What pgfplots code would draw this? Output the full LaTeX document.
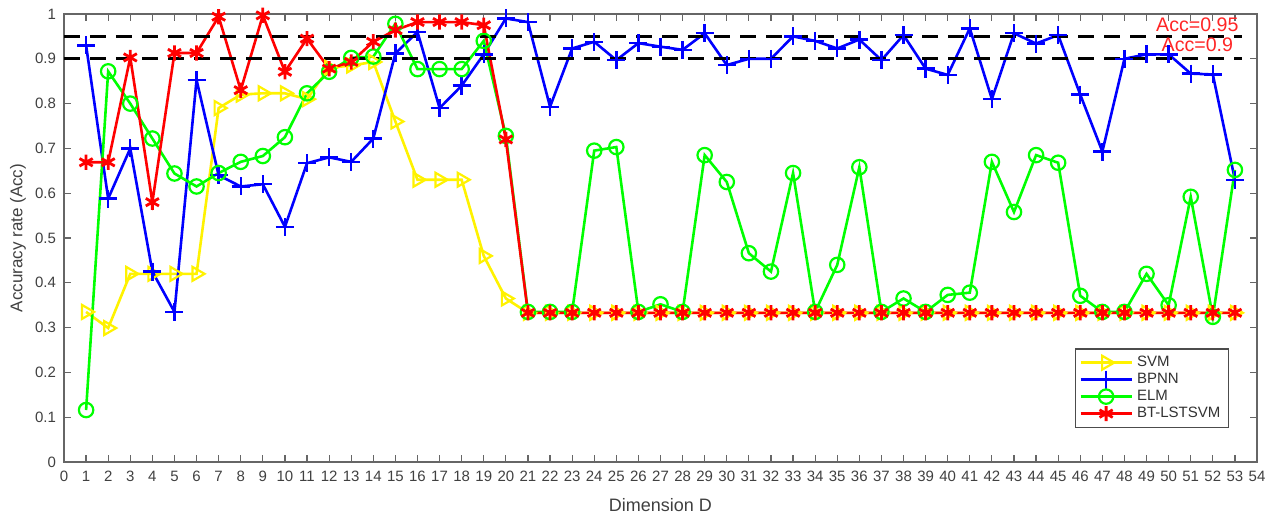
\documentclass[border=0pt]{standalone}
\usepackage{pgfplots}
\pgfplotsset{compat=1.18}
\usepackage{fontspec}
\setmainfont{Liberation Sans}
\begin{document}
\begin{tikzpicture}
\begin{axis}[
  scale only axis,
  width=596.5pt, height=224pt,
  xmin=0, xmax=54, ymin=0, ymax=1,
  xtick={0,1,...,54},
  ytick={0,0.1,...,1},
  yticklabels={0,0.1,0.2,0.3,0.4,0.5,0.6,0.7,0.8,0.9,1},
  tick align=inside,
  major tick length=3.5pt,
  axis line style={draw=black!60, line width=0.6pt},
  tick style={draw=black!60, line width=0.6pt},
  tick label style={font=\fontsize{7.5}{8}\selectfont, text=black!75},
  xticklabel style={yshift=-1pt},
  yticklabel style={xshift=-0.5pt},
  /pgf/number format/assume math mode=true,
  xlabel={Dimension D},
  ylabel={Accuracy rate (Acc)},
  xlabel style={at={(axis description cs:0.5,-0.096)}, anchor=center, font=\fontsize{9}{10}\selectfont, text=black!75},
  ylabel style={at={(axis description cs:-0.0385,0.5)}, anchor=center, rotate=0, font=\fontsize{8.5}{10}\selectfont, text=black!75},
  legend style={at={(rel axis cs:0.9765,0.076)}, anchor=south east, font=\fontsize{7.5}{8}\selectfont, draw=black!70, line width=0.6pt, row sep=-2.2pt, inner xsep=2pt, inner ysep=1.5pt, text=black!80},
  legend cell align=left,
  legend image code/.code={\draw[mark repeat=2,mark phase=2] plot coordinates {(0cm,0cm)(0.45cm,0cm)(0.9cm,0cm)};},
  every axis plot/.append style={line width=1.3pt},
]
\addplot[yellow, mark=triangle, mark size=4pt, mark options={rotate=-90, solid, line width=1.1pt}] coordinates {
(1,0.335)(2,0.299)(3,0.42)(4,0.42)(5,0.42)(6,0.42)(7,0.79)(8,0.82)(9,0.823)(10,0.823)
(11,0.81)(12,0.88)(13,0.885)(14,0.893)(15,0.76)(16,0.63)(17,0.63)(18,0.63)(19,0.46)(20,0.365)
(21,0.333)(22,0.333)(23,0.333)(24,0.333)(25,0.333)(26,0.333)(27,0.333)(28,0.333)(29,0.333)(30,0.333)
(31,0.333)(32,0.333)(33,0.333)(34,0.333)(35,0.333)(36,0.333)(37,0.333)(38,0.333)(39,0.333)(40,0.333)
(41,0.333)(42,0.333)(43,0.333)(44,0.333)(45,0.333)(46,0.333)(47,0.333)(48,0.333)(49,0.333)(50,0.333)
(51,0.333)(52,0.333)(53,0.333)};
\addlegendentry{SVM}
\addplot[blue, mark=+, mark size=4.5pt, mark options={line width=1.2pt}] coordinates {
(1,0.93)(2,0.588)(3,0.70)(4,0.425)(5,0.335)(6,0.853)(7,0.64)(8,0.615)(9,0.62)(10,0.525)
(11,0.667)(12,0.68)(13,0.67)(14,0.722)(15,0.912)(16,0.96)(17,0.79)(18,0.84)(19,0.91)(20,0.99)
(21,0.982)(22,0.793)(23,0.923)(24,0.938)(25,0.897)(26,0.935)(27,0.927)(28,0.92)(29,0.957)(30,0.886)
(31,0.9)(32,0.9)(33,0.95)(34,0.94)(35,0.923)(36,0.943)(37,0.897)(38,0.953)(39,0.878)(40,0.864)
(41,0.968)(42,0.81)(43,0.957)(44,0.934)(45,0.953)(46,0.82)(47,0.693)(48,0.9)(49,0.91)(50,0.91)
(51,0.867)(52,0.865)(53,0.63)};
\addlegendentry{BPNN}
\addplot[green, mark=o, mark size=3.6pt, mark options={line width=1.1pt}] coordinates {
(1,0.116)(2,0.872)(3,0.80)(4,0.722)(5,0.644)(6,0.615)(7,0.645)(8,0.67)(9,0.683)(10,0.725)
(11,0.823)(12,0.871)(13,0.902)(14,0.905)(15,0.978)(16,0.877)(17,0.877)(18,0.877)(19,0.94)(20,0.728)
(21,0.335)(22,0.335)(23,0.335)(24,0.695)(25,0.703)(26,0.335)(27,0.352)(28,0.335)(29,0.685)(30,0.625)
(31,0.466)(32,0.425)(33,0.645)(34,0.335)(35,0.44)(36,0.658)(37,0.335)(38,0.365)(39,0.335)(40,0.373)
(41,0.378)(42,0.67)(43,0.558)(44,0.685)(45,0.668)(46,0.371)(47,0.335)(48,0.335)(49,0.42)(50,0.35)
(51,0.592)(52,0.324)(53,0.652)};
\addlegendentry{ELM}
\addplot[red, mark=asterisk, mark size=3.8pt, mark options={line width=1.4pt}] coordinates {
(1,0.669)(2,0.669)(3,0.903)(4,0.58)(5,0.913)(6,0.913)(7,0.994)(8,0.83)(9,0.997)(10,0.871)
(11,0.945)(12,0.878)(13,0.893)(14,0.938)(15,0.964)(16,0.982)(17,0.982)(18,0.982)(19,0.975)(20,0.72)
(21,0.333)(22,0.333)(23,0.333)(24,0.333)(25,0.333)(26,0.333)(27,0.333)(28,0.333)(29,0.333)(30,0.333)
(31,0.333)(32,0.333)(33,0.333)(34,0.333)(35,0.333)(36,0.333)(37,0.333)(38,0.333)(39,0.333)(40,0.333)
(41,0.333)(42,0.333)(43,0.333)(44,0.333)(45,0.333)(46,0.333)(47,0.333)(48,0.333)(49,0.333)(50,0.333)
(51,0.333)(52,0.333)(53,0.333)};
\addlegendentry{BT-LSTSVM}
\addplot[black, line width=1.4pt, dash pattern=on 8pt off 5pt, forget plot] coordinates {(0,0.95)(53.3,0.95)};
\addplot[black, line width=1.4pt, dash pattern=on 8pt off 5pt, forget plot] coordinates {(0,0.9)(53.3,0.9)};
\node[text=red!85, font=\fontsize{9.8}{10}\selectfont, inner sep=0pt] at (axis cs:51.3,0.977) {Acc=0.95};
\node[text=red!85, font=\fontsize{9.8}{10}\selectfont, inner sep=0pt] at (axis cs:51.3,0.932) {Acc=0.9};
\end{axis}
\path ([xshift=-32pt,yshift=-29pt]current axis.south west) rectangle ([xshift=11.5pt,yshift=7pt]current axis.north east);
\end{tikzpicture}
\end{document}
